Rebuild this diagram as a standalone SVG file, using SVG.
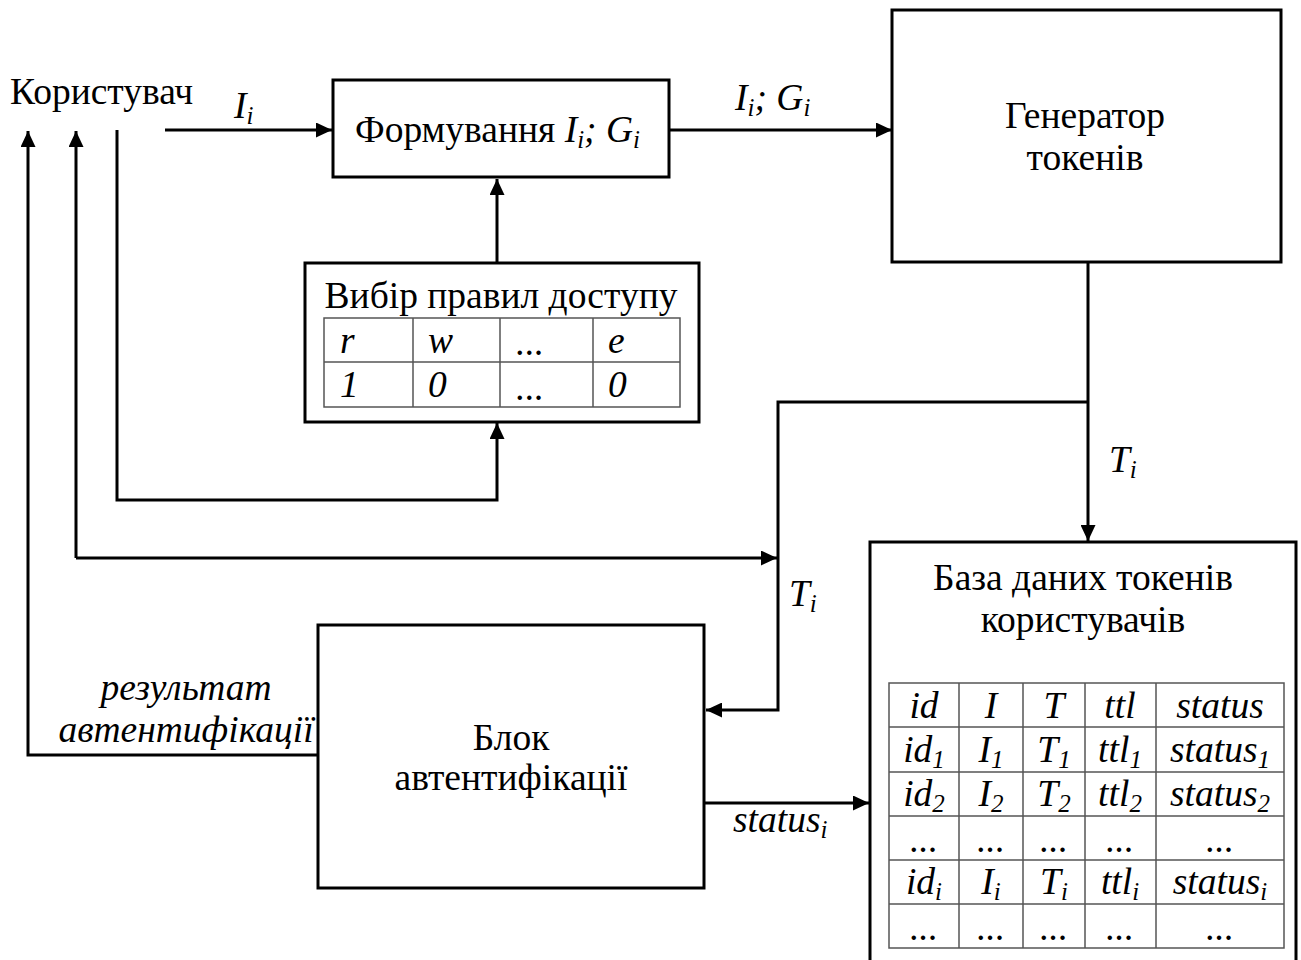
<svg xmlns="http://www.w3.org/2000/svg" width="1301" height="960" viewBox="0 0 1301 960" font-family="'Liberation Serif', 'DejaVu Serif', 'Times New Roman', serif">
  <defs>
    <marker id="arrow" markerWidth="16" markerHeight="15" refX="16" refY="7.5" orient="auto" markerUnits="userSpaceOnUse">
      <path d="M0,0 L16,7.5 L0,15 Z" fill="#000"/>
    </marker>
  </defs>
  <style>
    text { fill: #000; }
    .t { font-size: 37.5px; }
    .it { font-size: 37.5px; font-style: italic; }
    .sub { font-size: 25px; font-style: italic; }
    .box { fill: #fff; stroke: #000; stroke-width: 3; }
    .grid { fill: none; stroke: #555; stroke-width: 1.5; }
    .arr { fill: none; stroke: #000; stroke-width: 3; marker-end: url(#arrow); }
  </style>

  <rect width="1301" height="960" fill="#fff"/>

  <!-- connectors -->
  <g id="connectors">
    <line class="arr" x1="165" y1="130" x2="332" y2="130"/>
    <line class="arr" x1="669" y1="130" x2="892" y2="130"/>
    <line class="arr" x1="497" y1="263" x2="497" y2="179"/>
    <polyline class="arr" points="117,130 117,500 497,500 497,423"/>
    <line class="arr" x1="1088" y1="262" x2="1088" y2="541"/>
    <polyline class="arr" points="1088,402 778,402 778,710 706,710"/>
    <polyline class="arr" points="76,558 777,558"/>
    <line class="arr" x1="76" y1="558" x2="76" y2="131"/>
    <polyline class="arr" points="318,755 28,755 28,131"/>
    <line class="arr" x1="705" y1="803" x2="869" y2="803"/>
  </g>

  <!-- connector labels -->
  <g id="labels">
    <text x="234" y="118" class="it">I<tspan class="sub" dy="6">i</tspan></text>
    <text x="735" y="110" class="it">I<tspan class="sub" dy="6">i</tspan><tspan dy="-6">; G</tspan><tspan class="sub" dy="6">i</tspan></text>
    <text x="1109" y="472" class="it">T<tspan class="sub" dy="6">i</tspan></text>
    <text x="789" y="606" class="it">T<tspan class="sub" dy="6">i</tspan></text>
    <text x="733" y="832" class="it">status<tspan class="sub" dy="6">i</tspan></text>
    <text x="186" y="700" class="it" text-anchor="middle">результат</text>
    <text x="186" y="742" class="it" text-anchor="middle">автентифікації</text>
  </g>

  <g id="user">
    <text x="10" y="104" class="t">Користувач</text>
  </g>

  <g id="forming">
    <rect class="box" x="333" y="80" width="336" height="97"/>
    <text x="355" y="142" class="t">Формування <tspan class="it">I</tspan><tspan class="sub" dy="6">i</tspan><tspan class="it" dy="-6">; G</tspan><tspan class="sub" dy="6">i</tspan></text>
  </g>

  <g id="generator">
    <rect class="box" x="892" y="10" width="389" height="252"/>
    <text x="1085" y="128" class="t" text-anchor="middle">Генератор</text>
    <text x="1085" y="170" class="t" text-anchor="middle">токенів</text>
  </g>

  <g id="access-rules">
    <rect class="box" x="305" y="263" width="394" height="159"/>
    <text x="501" y="308" class="t" text-anchor="middle">Вибір правил доступу</text>
    <rect class="grid" x="324" y="318" width="356" height="89"/>
    <line class="grid" x1="324" y1="362" x2="680" y2="362"/>
    <line class="grid" x1="413" y1="318" x2="413" y2="407"/>
    <line class="grid" x1="500" y1="318" x2="500" y2="407"/>
    <line class="grid" x1="593" y1="318" x2="593" y2="407"/>
    <text x="340" y="353" class="it">r</text>
    <text x="428" y="353" class="it">w</text>
    <text x="516" y="355" class="it">...</text>
    <text x="608" y="353" class="it">e</text>
    <text x="340" y="397" class="it">1</text>
    <text x="428" y="397" class="it">0</text>
    <text x="516" y="400" class="it">...</text>
    <text x="608" y="397" class="it">0</text>
  </g>

  <g id="auth">
    <rect class="box" x="318" y="625" width="386" height="263"/>
    <text x="511" y="750" class="t" text-anchor="middle">Блок</text>
    <text x="511" y="790" class="t" text-anchor="middle">автентифікації</text>
  </g>

  <g id="database">
    <rect class="box" x="870" y="542" width="426" height="430"/>
    <text x="1083" y="590" class="t" text-anchor="middle">База даних токенів</text>
    <text x="1083" y="632" class="t" text-anchor="middle">користувачів</text>
    <rect class="grid" x="889" y="683" width="395" height="265"/>
    <line class="grid" x1="889" y1="727" x2="1284" y2="727"/>
    <line class="grid" x1="889" y1="772" x2="1284" y2="772"/>
    <line class="grid" x1="889" y1="816" x2="1284" y2="816"/>
    <line class="grid" x1="889" y1="860" x2="1284" y2="860"/>
    <line class="grid" x1="889" y1="904" x2="1284" y2="904"/>
    <line class="grid" x1="959" y1="683" x2="959" y2="948"/>
    <line class="grid" x1="1023" y1="683" x2="1023" y2="948"/>
    <line class="grid" x1="1085" y1="683" x2="1085" y2="948"/>
    <line class="grid" x1="1156" y1="683" x2="1156" y2="948"/>
    <g class="it" text-anchor="middle">
      <text x="924" y="718">id</text>
      <text x="991" y="718">I</text>
      <text x="1054" y="718">T</text>
      <text x="1120" y="718">ttl</text>
      <text x="1220" y="718">status</text>

      <text x="924" y="762">id<tspan class="sub" dy="6">1</tspan></text>
      <text x="991" y="762">I<tspan class="sub" dy="6">1</tspan></text>
      <text x="1054" y="762">T<tspan class="sub" dy="6">1</tspan></text>
      <text x="1120" y="762">ttl<tspan class="sub" dy="6">1</tspan></text>
      <text x="1220" y="762">status<tspan class="sub" dy="6">1</tspan></text>

      <text x="924" y="806">id<tspan class="sub" dy="6">2</tspan></text>
      <text x="991" y="806">I<tspan class="sub" dy="6">2</tspan></text>
      <text x="1054" y="806">T<tspan class="sub" dy="6">2</tspan></text>
      <text x="1120" y="806">ttl<tspan class="sub" dy="6">2</tspan></text>
      <text x="1220" y="806">status<tspan class="sub" dy="6">2</tspan></text>

      <text x="924" y="852">...</text>
      <text x="991" y="852">...</text>
      <text x="1054" y="852">...</text>
      <text x="1120" y="852">...</text>
      <text x="1220" y="852">...</text>

      <text x="924" y="894">id<tspan class="sub" dy="6">i</tspan></text>
      <text x="991" y="894">I<tspan class="sub" dy="6">i</tspan></text>
      <text x="1054" y="894">T<tspan class="sub" dy="6">i</tspan></text>
      <text x="1120" y="894">ttl<tspan class="sub" dy="6">i</tspan></text>
      <text x="1220" y="894">status<tspan class="sub" dy="6">i</tspan></text>

      <text x="924" y="940">...</text>
      <text x="991" y="940">...</text>
      <text x="1054" y="940">...</text>
      <text x="1120" y="940">...</text>
      <text x="1220" y="940">...</text>
    </g>
  </g>
</svg>
